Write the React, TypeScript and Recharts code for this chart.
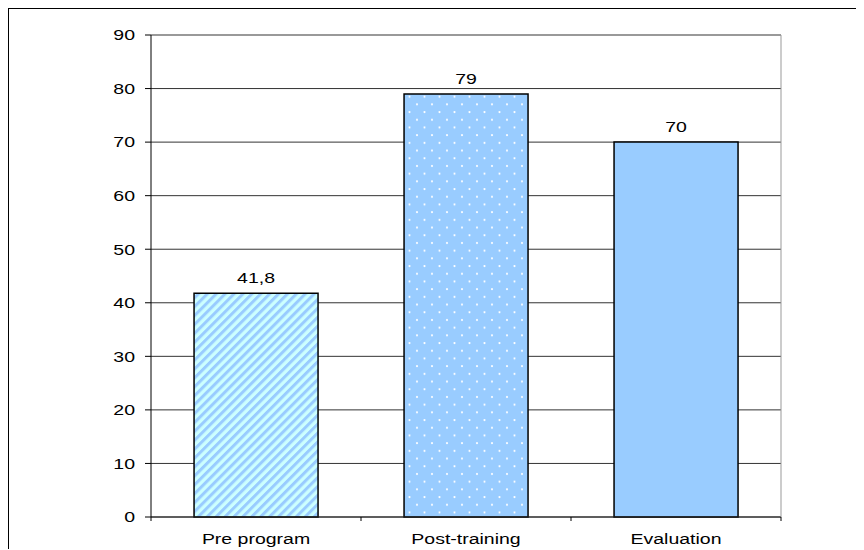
import { BarChart, Bar, XAxis, YAxis, CartesianGrid, Cell, LabelList } from 'recharts';

const categories = ['Pre program', 'Post-training', 'Evaluation'];
const scores = [41.8, 79, 70];
const scoreLabels = ['41,8', '79', '70'];
const yTicks = [0, 10, 20, 30, 40, 50, 60, 70, 80, 90];

const fills = ['url(#stripes)', 'url(#dots)', '#99ccff'];

const data = categories.map((name, i) => ({ name, value: scores[i], label: scoreLabels[i] }));

const FONT = '"Liberation Sans", Arial, sans-serif';
const HALF_BAND = 105;
// the original text is stretched sideways
const SX = 1.3;

function WideText({ x, y, anchor, dy, children }: any) {
  return (
    <text
      transform={`translate(${x},${y}) scale(${SX},1)`}
      textAnchor={anchor}
      dy={dy}
      fontSize={15}
      fontFamily={FONT}
      fill="#000"
    >
      {children}
    </text>
  );
}

function CategoryTick(props: any) {
  const { x, y, payload, index } = props;
  const last = index === categories.length - 1;
  return (
    <g>
      <line x1={x - HALF_BAND} y1={y} x2={x - HALF_BAND} y2={y + 4} stroke="#000" />
      {last && <line x1={x + HALF_BAND} y1={y} x2={x + HALF_BAND} y2={y + 4} stroke="#000" />}
      <WideText x={x} y={y + 27} anchor="middle">
        {payload.value}
      </WideText>
    </g>
  );
}

function ValueTick(props: any) {
  const { x, y, payload } = props;
  return (
    <WideText x={x} y={y} anchor="end" dy="0.355em">
      {payload.value}
    </WideText>
  );
}

function BarValue(props: any) {
  const { x, y, width, value } = props;
  return (
    <WideText x={x + width / 2} y={y - 10} anchor="middle">
      {value}
    </WideText>
  );
}

export default function App() {
  return (
    <div
      style={{
        width: 854,
        height: 540,
        borderTop: '2px solid #000',
        borderLeft: '2px solid #000',
        marginTop: -1,
        marginLeft: -1,
        fontFamily: FONT,
      }}
    >
      <BarChart
        width={854}
        height={540}
        data={data}
        margin={{ top: 25, right: 81, left: 0, bottom: 0 }}
        barCategoryGap="20.5%"
      >
        <defs>
          <pattern id="stripes" width={6.3} height={6.3} patternUnits="userSpaceOnUse" patternTransform="rotate(45)">
            <rect width={6.3} height={6.3} fill="#ccffff" />
            <rect width={3} height={6.3} fill="#99ccff" />
          </pattern>
          <pattern id="dots" width={15} height={15.4} patternUnits="userSpaceOnUse">
            <rect width={15} height={15.4} fill="#99ccff" />
            <circle cx={3} cy={3} r={1.1} fill="#ffffff" />
            <circle cx={10.5} cy={10.7} r={1.1} fill="#ffffff" />
          </pattern>
        </defs>
        <CartesianGrid vertical={false} stroke="#333" strokeWidth={1} />
        <XAxis
          dataKey="name"
          height={32}
          tickSize={0}
          tickMargin={0}
          tickLine={false}
          axisLine={{ stroke: '#222' }}
          tick={<CategoryTick />}
          interval={0}
        />
        <XAxis
          xAxisId="top"
          dataKey="name"
          orientation="top"
          height={1}
          tick={false}
          tickLine={false}
          axisLine={{ stroke: '#999' }}
        />
        <YAxis
          domain={[0, 90]}
          ticks={yTicks}
          width={142}
          tickSize={6}
          tickMargin={10}
          tickLine={{ stroke: '#000' }}
          axisLine={{ stroke: '#000' }}
          tick={<ValueTick />}
          interval={0}
        />
        <YAxis
          yAxisId="r"
          orientation="right"
          domain={[0, 90]}
          width={1}
          tick={false}
          tickLine={false}
          axisLine={{ stroke: '#999' }}
        />
        <Bar dataKey="value" stroke="#000" strokeWidth={1.5} isAnimationActive={false}>
          {data.map((d, i) => (
            <Cell key={d.name} fill={fills[i]} />
          ))}
          <LabelList dataKey="label" position="top" content={<BarValue />} />
        </Bar>
      </BarChart>
    </div>
  );
}
